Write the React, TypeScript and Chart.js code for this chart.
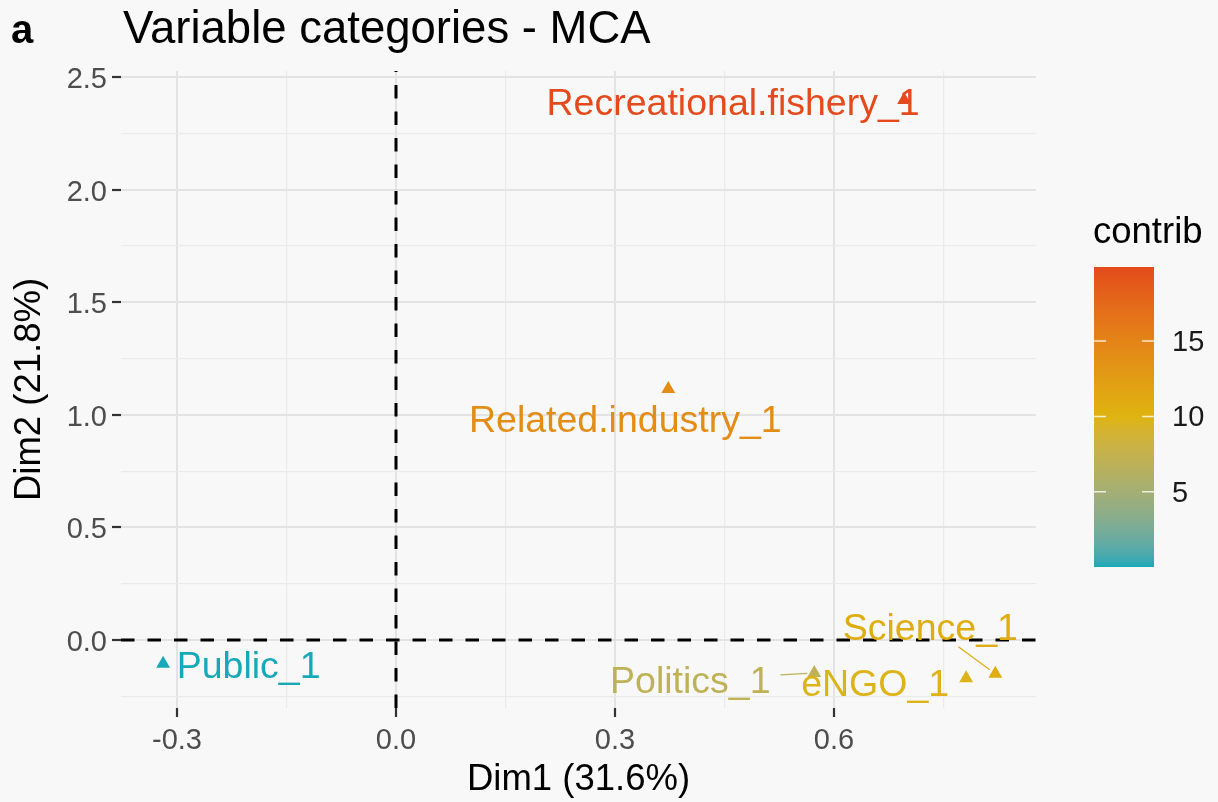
import React, { useEffect, useRef } from "react";
import { Chart, registerables } from "chart.js";

Chart.register(...registerables);

// ---------------- data ----------------
const CATEGORIES = [
  "Recreational.fishery_1",
  "Related.industry_1",
  "Public_1",
  "Politics_1",
  "eNGO_1",
  "Science_1",
];
const DIM1 = [0.696, 0.373, -0.319, 0.573, 0.781, 0.821];
const DIM2 = [2.398, 1.115, -0.105, -0.147, -0.17, -0.15];
const CONTRIB = [19.9, 14.2, 0.02, 7.0, 9.8, 10.8];

const X_TICKS = [-0.3, -0.15, 0, 0.15, 0.3, 0.45, 0.6, 0.75];
const X_MAJOR = [-0.3, 0, 0.3, 0.6];
const Y_TICKS = [-0.25, 0, 0.25, 0.5, 0.75, 1, 1.25, 1.5, 1.75, 2, 2.25, 2.5];
const Y_MAJOR = [0, 0.5, 1, 1.5, 2, 2.5];
const X_LIMITS = [-0.3767, 0.8767];
const Y_LIMITS = [-0.302, 2.527];
const LEGEND_TICKS = [5, 10, 15];
const GRADIENT = ["#17A9B9", "#DEB40F", "#E44A1B"];

const TAG = "a";
const TITLE = "Variable categories - MCA";
const X_TITLE = "Dim1 (31.6%)";
const Y_TITLE = "Dim2 (21.8%)";
const LEGEND_TITLE = "contrib";

// ---------------- layout (pixels) ----------------
const LABEL_OFFSETS = [
  [-171, 15],
  [-43, 43],
  [85.5, 14],
  [-124, 20],
  [-91, 18],
  [-65, -34],
];
const LABEL_SEGMENT = [false, false, false, true, false, true];
const FONT = '"Liberation Sans", Arimo, Arial, Helvetica, sans-serif';
const BG = "#F8F8F8";

// ---------------- colour helpers (Lab interpolation like ggplot) ----------------
function hexToRgb(h: string) {
  const n = parseInt(h.slice(1), 16);
  return [(n >> 16) & 255, (n >> 8) & 255, n & 255];
}
function toLin(c: number) {
  c /= 255;
  return c <= 0.04045 ? c / 12.92 : Math.pow((c + 0.055) / 1.055, 2.4);
}
function fromLin(c: number) {
  const v = c <= 0.0031308 ? 12.92 * c : 1.055 * Math.pow(c, 1 / 2.4) - 0.055;
  return Math.round(Math.max(0, Math.min(1, v)) * 255);
}
function rgbToLab(rgb: number[]) {
  const R = toLin(rgb[0]), G = toLin(rgb[1]), B = toLin(rgb[2]);
  const X = (0.4124 * R + 0.3576 * G + 0.1805 * B) / 0.95047;
  const Y = 0.2126 * R + 0.7152 * G + 0.0722 * B;
  const Z = (0.0193 * R + 0.1192 * G + 0.9505 * B) / 1.08883;
  const f = (t: number) => (t > 0.008856 ? Math.cbrt(t) : 7.787 * t + 16 / 116);
  const fx = f(X), fy = f(Y), fz = f(Z);
  return [116 * fy - 16, 500 * (fx - fy), 200 * (fy - fz)];
}
function labToRgb(lab: number[]) {
  const fy = (lab[0] + 16) / 116;
  const fx = fy + lab[1] / 500;
  const fz = fy - lab[2] / 200;
  const inv = (t: number) => (t * t * t > 0.008856 ? t * t * t : (t - 16 / 116) / 7.787);
  const X = 0.95047 * inv(fx), Y = inv(fy), Z = 1.08883 * inv(fz);
  const R = 3.2406 * X - 1.5372 * Y - 0.4986 * Z;
  const G = -0.9689 * X + 1.8758 * Y + 0.0415 * Z;
  const B = 0.0557 * X - 0.204 * Y + 1.057 * Z;
  return `rgb(${fromLin(R)},${fromLin(G)},${fromLin(B)})`;
}
const GRAD_LAB = GRADIENT.map((c) => rgbToLab(hexToRgb(c)));
const C_MIN = Math.min(...CONTRIB);
const C_MAX = Math.max(...CONTRIB);
function colorFor(v: number) {
  let t = (v - C_MIN) / (C_MAX - C_MIN);
  t = Math.max(0, Math.min(1, t));
  const seg = t * (GRAD_LAB.length - 1);
  const i = Math.min(GRAD_LAB.length - 2, Math.floor(seg));
  const u = seg - i;
  const a = GRAD_LAB[i], b = GRAD_LAB[i + 1];
  return labToRgb([a[0] + (b[0] - a[0]) * u, a[1] + (b[1] - a[1]) * u, a[2] + (b[2] - a[2]) * u]);
}

const near = (list: number[], v: number) => list.some((m) => Math.abs(m - v) < 1e-9);

export default function App() {
  const ref = useRef<HTMLCanvasElement | null>(null);

  useEffect(() => {
    document.body.style.margin = "0";
    document.body.style.background = BG;
    const canvas = ref.current!;
    const colors = CONTRIB.map(colorFor);
    const LABEL_SIZE = 37.5;

    const decor = {
      id: "decor",
      beforeDraw(chart: any) {
        const ctx = chart.ctx;
        ctx.save();
        ctx.fillStyle = BG;
        ctx.fillRect(0, 0, chart.width, chart.height);
        ctx.restore();
      },
      beforeDatasetsDraw(chart: any) {
        const { ctx, chartArea: a, scales } = chart;
        const x0 = scales.x.getPixelForValue(0);
        const y0 = scales.y.getPixelForValue(0);
        ctx.save();
        ctx.strokeStyle = "#000";
        ctx.lineWidth = 3;
        ctx.setLineDash([13.5, 13]);
        ctx.beginPath();
        ctx.moveTo(a.left, y0);
        ctx.lineTo(a.right, y0);
        ctx.stroke();
        ctx.beginPath();
        ctx.moveTo(x0, a.bottom);
        ctx.lineTo(x0, a.top);
        ctx.stroke();
        ctx.restore();
      },
      afterDatasetsDraw(chart: any) {
        const { ctx, scales } = chart;
        ctx.save();
        ctx.font = `${LABEL_SIZE}px ${FONT}`;
        ctx.textAlign = "center";
        ctx.textBaseline = "alphabetic";
        CATEGORIES.forEach((name, i) => {
          const px = scales.x.getPixelForValue(DIM1[i]);
          const py = scales.y.getPixelForValue(DIM2[i]);
          const cx = px + LABEL_OFFSETS[i][0];
          const base = py + LABEL_OFFSETS[i][1];
          ctx.fillStyle = colors[i];
          ctx.fillText(name, cx, base);
          if (LABEL_SEGMENT[i]) {
            const w = ctx.measureText(name).width;
            const cy = base - 0.36 * LABEL_SIZE;
            const hw = w / 2 + 10;
            const hh = 0.36 * LABEL_SIZE + 7;
            const dx = px - cx, dy = py - cy;
            const tx = dx !== 0 ? hw / Math.abs(dx) : Infinity;
            const ty = dy !== 0 ? hh / Math.abs(dy) : Infinity;
            const t = Math.min(tx, ty);
            const sx = cx + dx * t, sy = cy + dy * t;
            const len = Math.hypot(dx, dy);
            const ex = px - (dx / len) * 7, ey = py - (dy / len) * 7;
            ctx.strokeStyle = colors[i];
            ctx.lineWidth = 1.2;
            ctx.beginPath();
            ctx.moveTo(sx, sy);
            ctx.lineTo(ex, ey);
            ctx.stroke();
          }
        });

        // title
        ctx.textAlign = "left";
        ctx.fillStyle = "#000";
        ctx.font = `700 40px ${FONT}`;
        ctx.fillText(TAG, 11, 43);
        ctx.font = `400 45.5px ${FONT}`;
        ctx.fillText(TITLE, 123, 43);

        // legend
        const barL = 1094, barR = 1154, barT = 267, barB = 567;
        ctx.font = `36.5px ${FONT}`;
        ctx.fillStyle = "#000";
        ctx.fillText(LEGEND_TITLE, 1093, 243);
        for (let yy = barT; yy < barB; yy++) {
          const v = C_MAX - ((yy + 0.5 - barT) / (barB - barT)) * (C_MAX - C_MIN);
          ctx.fillStyle = colorFor(v);
          ctx.fillRect(barL, yy, barR - barL, 1);
        }
        ctx.font = `29px ${FONT}`;
        ctx.textBaseline = "middle";
        LEGEND_TICKS.forEach((v) => {
          const y = barB - ((v - C_MIN) / (C_MAX - C_MIN)) * (barB - barT);
          ctx.strokeStyle = "rgba(255,255,255,0.8)";
          ctx.lineWidth = 1.5;
          ctx.beginPath();
          ctx.moveTo(barL, y);
          ctx.lineTo(barL + 12, y);
          ctx.moveTo(barR - 12, y);
          ctx.lineTo(barR, y);
          ctx.stroke();
          ctx.fillStyle = "#1A1A1A";
          ctx.fillText(String(v), 1172, y + 2);
        });
        ctx.restore();
      },
    };

    const gridColor = (list: number[]) => (c: any) =>
      c.tick && near(list, c.tick.value) ? "#E3E3E3" : "#EBEBEB";
    const gridWidth = (list: number[]) => (c: any) =>
      c.tick && near(list, c.tick.value) ? 2 : 1.2;
    const tickColor = (list: number[]) => (c: any) =>
      c.tick && near(list, c.tick.value) ? "#333333" : "rgba(0,0,0,0)";

    const chart = new Chart(canvas, {
      type: "scatter",
      data: {
        datasets: [
          {
            data: DIM1.map((x, i) => ({ x, y: DIM2[i] })),
            pointStyle: "triangle",
            pointRadius: 8,
            pointHoverRadius: 8,
            pointBackgroundColor: colors,
            pointBorderColor: colors,
            pointBorderWidth: 0,
          },
        ],
      },
      options: {
        responsive: false,
        animation: false,
        devicePixelRatio: 1,
        events: [],
        layout: { padding: { top: 71, right: 182, left: 0, bottom: 0 } },
        plugins: {
          legend: { display: false },
          tooltip: { enabled: false },
          title: { display: false },
        },
        scales: {
          x: {
            type: "linear",
            min: X_LIMITS[0],
            max: X_LIMITS[1],
            afterBuildTicks: (s: any) => {
              s.ticks = X_TICKS.map((v) => ({ value: v }));
            },
            afterFit: (s: any) => {
              s.height = 94;
            },
            border: { display: false },
            grid: {
              color: gridColor(X_MAJOR),
              lineWidth: gridWidth(X_MAJOR),
              tickColor: tickColor(X_MAJOR),
              tickLength: 9,
              tickWidth: 2.2,
            },
            ticks: {
              autoSkip: false,
              maxRotation: 0,
              minRotation: 0,
              padding: 7,
              color: "#4D4D4D",
              font: { family: FONT, size: 29 },
              callback: (v: any) => (near(X_MAJOR, Number(v)) ? Number(v).toFixed(1) : ""),
            },
            title: {
              display: true,
              text: X_TITLE,
              color: "#000",
              font: { family: FONT, size: 36.5 },
              padding: { top: 0, bottom: 0 },
            },
          },
          y: {
            type: "linear",
            min: Y_LIMITS[0],
            max: Y_LIMITS[1],
            afterBuildTicks: (s: any) => {
              s.ticks = Y_TICKS.map((v) => ({ value: v }));
            },
            afterFit: (s: any) => {
              s.width = 121;
            },
            border: { display: false },
            grid: {
              color: gridColor(Y_MAJOR),
              lineWidth: gridWidth(Y_MAJOR),
              tickColor: tickColor(Y_MAJOR),
              tickLength: 9,
              tickWidth: 2.2,
            },
            ticks: {
              autoSkip: false,
              padding: 5,
              labelOffset: 3,
              color: "#4D4D4D",
              font: { family: FONT, size: 29 },
              callback: (v: any) => (near(Y_MAJOR, Number(v)) ? Number(v).toFixed(1) : ""),
            },
            title: {
              display: true,
              text: Y_TITLE,
              color: "#000",
              font: { family: FONT, size: 36.5 },
              padding: { top: 8, bottom: 0 },
            },
          },
        },
      },
      plugins: [decor],
    } as any);

    return () => chart.destroy();
  }, []);

  return (
    <div style={{ position: "fixed", left: 0, top: 0, width: 1218, height: 802, background: BG }}>
      <canvas ref={ref} width={1218} height={802} style={{ display: "block", width: 1218, height: 802 }} />
    </div>
  );
}
